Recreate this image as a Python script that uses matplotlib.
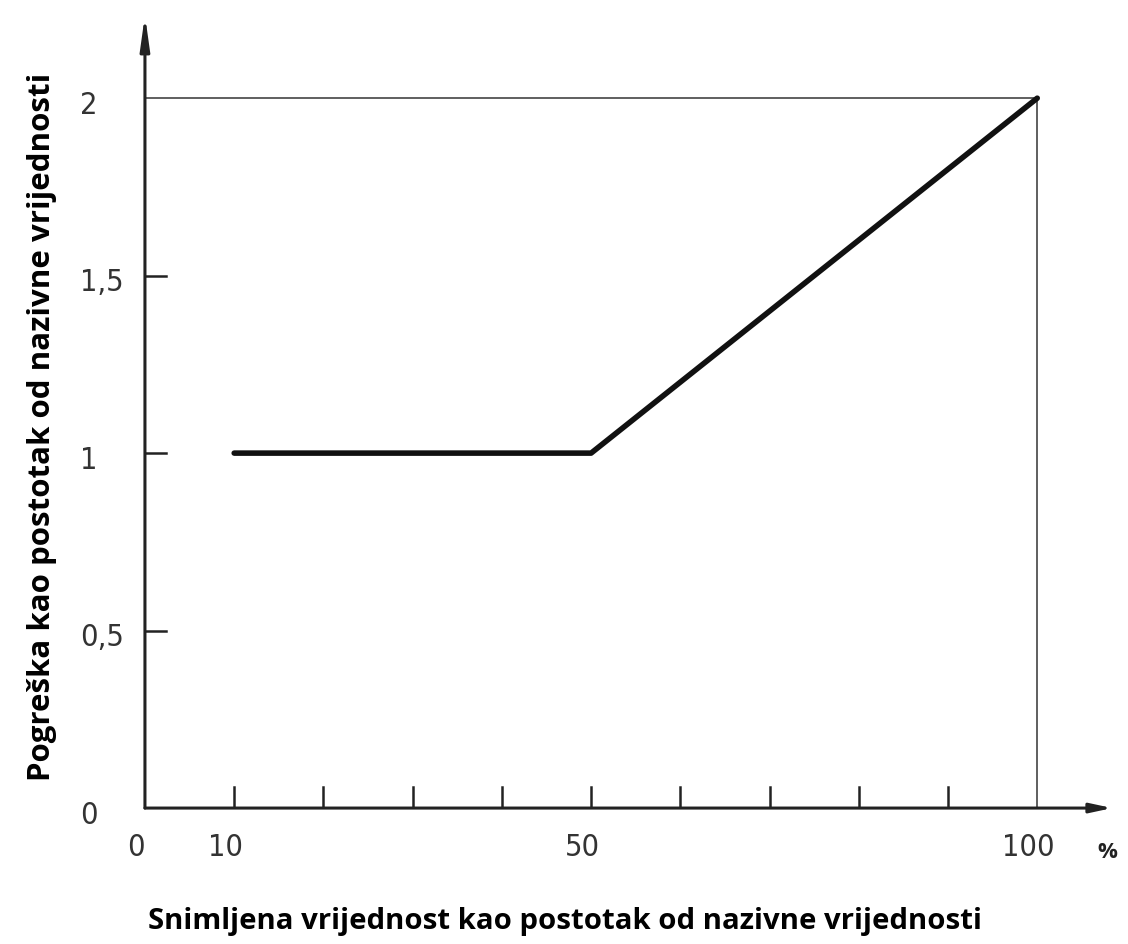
import numpy as np
import matplotlib.pyplot as plt

# data
x_curve = [10, 50, 100]
y_curve = [1.0, 1.0, 2.0]
x_minor = [10, 20, 30, 40, 50, 60, 70, 80, 90]
x_labels = {0: "0", 10: "10", 50: "50", 100: "100"}
y_ticks = [0.5, 1.0, 1.5]
y_labels = {0: "0", 0.5: "0,5", 1.0: "1", 1.5: "1,5", 2.0: "2"}
x_title = "Snimljena vrijednost kao postotak od nazivne vrijednosti"
y_title = "Pogreška kao postotak od nazivne vrijednosti"

fig = plt.figure(figsize=(11.28, 9.44), dpi=100)
ax = fig.add_axes([0.1285, 0.144, 0.986 - 0.1285, 0.984 - 0.144])
ax.set_xlim(0, 108.4)
ax.set_ylim(0, 2.234)
ax.axis("off")

col = "#222222"
tickfont = dict(family="DejaVu Sans", fontstretch="condensed", fontsize=22, color="#333333")

# axes with arrows
ax.annotate("", xy=(108.4, 0), xytext=(0, 0),
            arrowprops=dict(arrowstyle="-|>,head_length=1.3,head_width=0.28", lw=2.2,
                            color=col, shrinkA=0, shrinkB=0),
            annotation_clip=False)
ax.annotate("", xy=(0, 2.234), xytext=(0, 0),
            arrowprops=dict(arrowstyle="-|>,head_length=2.0,head_width=0.28", lw=2.2,
                            color=col, shrinkA=0, shrinkB=0),
            annotation_clip=False)

# frame lines at 2 and 100
ax.plot([0, 100], [2, 2], color="#444444", lw=1.2)
ax.plot([100, 100], [0, 2], color="#444444", lw=1.2)

# ticks
for xv in x_minor:
    ax.plot([xv, xv], [0, 0.06], color=col, lw=1.8)
for yv in y_ticks:
    ax.plot([0, 2.4], [yv, yv], color=col, lw=1.8)

# tick labels
for xv, s in x_labels.items():
    ax.text(xv - 1, -0.11, s, ha="center", va="center", **tickfont)
for yv, s in y_labels.items():
    ax.text(-7.3, yv - 0.02, s, ha="left", va="center", **tickfont)
ax.text(107.8, -0.125, "%", ha="center", va="center", fontsize=16,
        fontweight="bold", family="Open Sans", color="#222222")

# curve
ax.plot(x_curve, y_curve, color="#111111", lw=4.0, solid_capstyle="round")

fig.text(0.501, 0.024, x_title, ha="center", va="center", fontsize=21.2,
         fontweight="bold", family="Open Sans")
fig.text(0.037, 0.548, y_title, ha="center", va="center", rotation=90,
         fontsize=22.5, fontweight="bold", family="Open Sans")

fig.savefig("out.png", dpi=100, facecolor="white")
